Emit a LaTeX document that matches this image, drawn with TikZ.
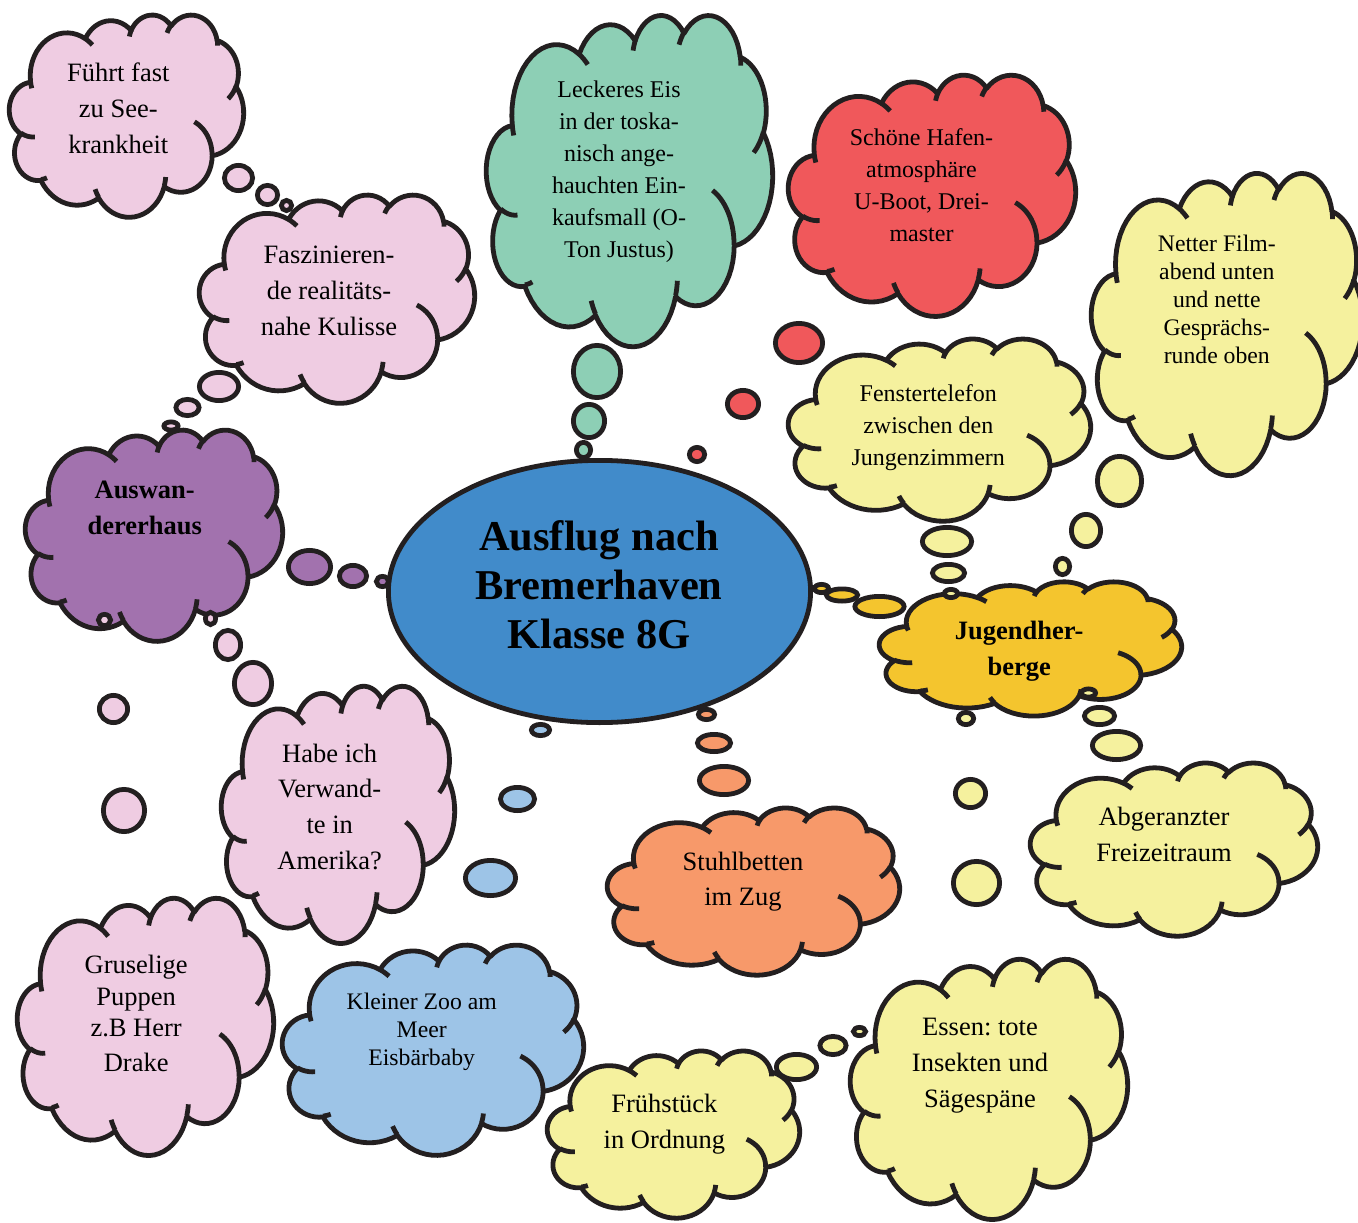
\documentclass[tikz,border=0pt]{standalone}
\usepackage{fontspec}
\setmainfont{Liberation Serif}
\usetikzlibrary{shapes.geometric}
\frenchspacing

\definecolor{olc}{HTML}{231F20}
\definecolor{cpink}{HTML}{EFCCE2}
\definecolor{cgreen}{HTML}{8DCFB5}
\definecolor{cred}{HTML}{F0585B}
\definecolor{cyellow}{HTML}{F5F19E}
\definecolor{cpurple}{HTML}{A272AE}
\definecolor{cblue}{HTML}{418BCA}
\definecolor{cgold}{HTML}{F4C52E}
\definecolor{corange}{HTML}{F7996A}
\definecolor{clblue}{HTML}{9DC4E7}

% ---------- cloud geometry (Office-like cloud, 43.2 x 43.2 box, y down) ----------
\def\clOutline{}
\def\clHooks{}
\def\clLX{0}
\def\clLY{0}
% #1 target macro name, #2 x0, #3 y0, #4 wR, #5 hR, #6 start angle, #7 sweep, #8 samples
\newcommand\clArc[8]{%
  \pgfmathsetmacro\clA{atan2((#4)*sin(#6),(#5)*cos(#6))}%
  \pgfmathsetmacro\clB{atan2((#4)*sin((#6)+(#7)),(#5)*cos((#6)+(#7)))}%
  \pgfmathsetmacro\clD{\clB-\clA-(#7)}%
  \pgfmathsetmacro\clD{\clD-360*round(\clD/360)}%
  \pgfmathsetmacro\clE{\clA+(#7)+\clD}%
  \pgfmathsetmacro\clCX{(#2)-(#4)*cos(\clA)}%
  \pgfmathsetmacro\clCY{(#3)-(#5)*sin(\clA)}%
  \foreach \clk in {1,...,#8}{%
    \pgfmathsetmacro\clT{\clA+(\clE-\clA)*\clk/#8}%
    \pgfmathsetmacro\clPX{\clCX+(#4)*cos(\clT)}%
    \pgfmathsetmacro\clPY{\clCY+(#5)*sin(\clT)}%
    \expandafter\xdef\csname #1\endcsname{\csname #1\endcsname\space -- (\clPX,\clPY)}%
    \xdef\clLX{\clPX}\xdef\clLY{\clPY}%
  }%
}
\newcommand\clHook[7]{%
  \xdef\clHooks{\clHooks\space(#1,#2)}%
  \clArc{clHooks}{#1}{#2}{#3}{#4}{#5}{#6}{#7}}

\xdef\clOutline{(3.9,14.37)}
\xdef\clLX{3.9}\xdef\clLY{14.37}
\clArc{clOutline}{\clLX}{\clLY}{6.753}{9.190}{-190.48748}{123.78053}{18}
\clArc{clOutline}{\clLX}{\clLY}{5.333}{7.267}{-144.10238}{89.94523}{14}
\clArc{clOutline}{\clLX}{\clLY}{4.365}{5.945}{-145.80792}{99.72302}{14}
\clArc{clOutline}{\clLX}{\clLY}{4.857}{6.595}{-130.98607}{117.24173}{16}
\clArc{clOutline}{\clLX}{\clLY}{5.333}{7.273}{-78.70888}{109.02692}{16}
\clArc{clOutline}{\clLX}{\clLY}{6.775}{9.220}{-46.26725}{130.26900}{18}
\clArc{clOutline}{\clLX}{\clLY}{5.785}{7.867}{0.62502}{114.03333}{16}
\clArc{clOutline}{\clLX}{\clLY}{6.752}{9.215}{22.45160}{115.17255}{18}
\clArc{clOutline}{\clLX}{\clLY}{7.720}{10.543}{66.24263}{75.71102}{14}
\clArc{clOutline}{\clLX}{\clLY}{4.360}{5.918}{-274.94208}{146.73557}{18}
\clArc{clOutline}{\clLX}{\clLY}{4.345}{5.945}{-246.82850}{152.51885}{18}
\xdef\clOutline{\clOutline\space -- cycle}

\clHook{4.693}{26.177}{4.345}{5.945}{86.7420}{26.4295}{6}
\clHook{6.928}{34.899}{4.360}{5.918}{73.6105}{11.4475}{4}
\clHook{16.478}{39.090}{6.752}{9.215}{137.6242}{14.0811}{5}
\clHook{28.827}{34.751}{6.752}{9.215}{6.4533}{15.9984}{5}
\clHook{34.129}{22.954}{5.785}{7.867}{-70.2924}{70.9174}{14}
\clHook{41.798}{15.354}{5.333}{7.273}{30.3180}{27.7515}{7}
\clHook{38.324}{5.426}{4.857}{6.595}{-13.7443}{14.8589}{4}
\clHook{29.078}{3.952}{4.857}{6.595}{-149.1815}{18.1954}{5}
\clHook{22.141}{4.720}{4.365}{5.945}{-163.4943}{17.6864}{5}
\clHook{14.000}{5.192}{6.753}{9.190}{-66.7070}{12.3194}{4}
\clHook{4.127}{15.789}{6.753}{9.190}{157.6544}{11.8582}{4}

\def\lw{4.8}
% #1 left #2 top #3 right #4 bottom (outer edges), #5 fill colour
\newcommand\mkcloud[5]{%
  \begin{scope}[shift={(#1+\lw/2,#2+\lw/2)},xscale={(#3-#1-\lw)/43.2},yscale={(#4-#2-\lw)/43.2}]
    \filldraw[fill=#5,outl] \clOutline;
    \draw[outl] \clHooks;
  \end{scope}}
% #1 name #2 x #3 y #4 outer w #5 outer h #6 fill
\newcommand\mkbub[6]{%
  \pgfmathsetmacro\bubw{#4-\lw}\pgfmathsetmacro\bubh{#5-\lw}%
  \node[bub,fill=#6,minimum width=\bubw pt,minimum height=\bubh pt] (#1) at (#2,#3) {};}

\begin{document}
\begin{tikzpicture}[x=1pt,y=-1pt,
  outl/.style={draw=olc,line width=\lw pt,line join=round},
  bub/.style={ellipse,draw=olc,line width=\lw pt,inner sep=0pt,outer sep=0pt},
  tA/.style={font=\fontsize{26.5}{35.7}\selectfont,align=center,inner sep=0pt},
  tB/.style={font=\fontsize{24}{32}\selectfont,align=center,inner sep=0pt},
  tC/.style={font=\fontsize{23.7}{28}\selectfont,align=center,inner sep=0pt},
  tD/.style={font=\fontsize{26.5}{36}\selectfont\bfseries,align=center,inner sep=0pt},
  tTitle/.style={font=\fontsize{42.5}{49}\selectfont\bfseries,align=center,inner sep=0pt}]
\fill[white] (0,0) rectangle (1358,1223);
\useasboundingbox (0,0) rectangle (1358,1223);

% clouds
\mkcloud{7}{12}{246}{219}{cpink}
\mkcloud{197}{192}{477}{405}{cpink}
\mkcloud{484}{12}{775}{348}{cgreen}
\mkcloud{786}{72}{1078}{318}{cred}
\mkcloud{1089}{170}{1365}{477}{cyellow}
\mkcloud{786}{336}{1093}{523}{cyellow}
\mkcloud{23}{427}{285}{643}{cpurple}
\mkcloud{877}{579}{1184}{718}{cgold}
\mkcloud{1028}{760}{1320}{938}{cyellow}
\mkcloud{605}{805}{902}{977}{corange}
\mkcloud{219}{683}{457}{945}{cpink}
\mkcloud{15}{895}{276}{1157}{cpink}
\mkcloud{280}{942}{586}{1157}{clblue}
\mkcloud{545}{1048}{802}{1220}{cyellow}
\mkcloud{848}{956}{1130}{1221}{cyellow}

% central ellipse
\node[ellipse,draw=olc,line width=\lw pt,fill=cblue,inner sep=0pt,
      minimum width=422.2pt,minimum height=262.2pt] (main) at (599.5,591.5) {};

% thought bubbles
\mkbub{p1}{238.5}{178}{33}{30}{cpink}
\mkbub{p2}{267.5}{195}{25}{24}{cpink}
\mkbub{p3}{286.5}{205.5}{15}{15}{cpink}
\mkbub{p4}{219}{386.5}{44}{33}{cpink}
\mkbub{p5}{187.5}{407.5}{28}{21}{cpink}
\mkbub{p6}{171}{426}{19}{13}{cpink}
\mkbub{u1}{309.5}{567}{47}{38}{cpurple}
\mkbub{u2}{353}{576}{32}{26}{cpurple}
\mkbub{u3}{382.5}{581.5}{17}{15}{cpurple}
\mkbub{p7}{104.5}{620}{17}{16}{cpink}
\mkbub{p8}{113.5}{709}{33}{32}{cpink}
\mkbub{p9}{124}{810.5}{46}{47}{cpink}
\mkbub{p10}{210.5}{618.5}{15}{17}{cpink}
\mkbub{p11}{228}{645}{30}{34}{cpink}
\mkbub{p12}{253}{683.5}{42}{47}{cpink}
\mkbub{g1}{597}{371.5}{52}{57}{cgreen}
\mkbub{g2}{589}{421}{36}{38}{cgreen}
\mkbub{g3}{583.5}{450}{19}{20}{cgreen}
\mkbub{r1}{799}{343}{52}{44}{cred}
\mkbub{r2}{743}{404}{36}{32}{cred}
\mkbub{r3}{697}{454.5}{20}{19}{cred}
\mkbub{y1}{947}{541.5}{54}{33}{cyellow}
\mkbub{y2}{948.5}{573}{37}{22}{cyellow}
\mkbub{y3}{951}{593.5}{18}{13}{cyellow}
\mkbub{y4}{1119.5}{481}{49}{54}{cyellow}
\mkbub{y5}{1086}{530.5}{34}{37}{cyellow}
\mkbub{y6}{1062.5}{566.5}{19}{21}{cyellow}
\mkbub{o1}{821.5}{588.5}{19}{13}{cgold}
\mkbub{o2}{842}{595}{36}{17}{cgold}
\mkbub{o3}{879.5}{606.5}{54}{25}{cgold}
\mkbub{y7}{1088.5}{693}{19}{13}{cyellow}
\mkbub{y8}{1099.5}{716}{35}{22}{cyellow}
\mkbub{y9}{1116.5}{745.5}{53}{33}{cyellow}
\mkbub{y10}{966}{718.5}{20}{17}{cyellow}
\mkbub{y11}{970.5}{793.5}{35}{33}{cyellow}
\mkbub{y12}{976.5}{883}{51}{48}{cyellow}
\mkbub{b1}{540.5}{730}{23}{16}{clblue}
\mkbub{b2}{517.5}{799}{39}{28}{clblue}
\mkbub{b3}{490.5}{878}{55}{40}{clblue}
\mkbub{s1}{706.5}{714.5}{21}{15}{corange}
\mkbub{s2}{714}{743}{38}{22}{corange}
\mkbub{s3}{724}{780.5}{54}{33}{corange}
\mkbub{y13}{796.5}{1067}{45}{30}{cyellow}
\mkbub{y14}{833}{1045.5}{31}{23}{cyellow}
\mkbub{y15}{859.5}{1031.5}{17}{13}{cyellow}

% texts
\node[tA] (t1) at (118.3,108.3) {Führt fast\\zu See-\\krankheit};
\node[tA] (t2) at (329,291) {Faszinieren-\\de realitäts-\\nahe Kulisse};
\node[tB] (t3) at (619,172) {Leckeres Eis\\in der toska-\\nisch ange-\\hauchten Ein-\\kaufsmall (O-\\Ton Justus)};
\node[tB] (t4) at (921.5,185) {Schöne Hafen-\\atmosphäre\\U-Boot, Drei-\\master};
\node[tC] (t5) at (1216.8,299) {Netter Film-\\abend unten\\und nette\\Gesprächs-\\runde oben};
\node[tB] (t6) at (928.3,427.2) {Fenstertelefon\\zwischen den\\Jungenzimmern};
\node[tD] (t7) at (144.7,508) {Auswan-\\dererhaus};
\node[tTitle] (t8) at (599,585) {Ausflug nach\\Bremerhaven\\Klasse 8G};
\node[tD] (t9) at (1019.2,650.8) {Jugendher-\\berge};
\node[tA] (t10) at (1164,834.5) {Abgeranzter\\Freizeitraum};
\node[tA] (t11) at (743,881.8) {Stuhlbetten\\im Zug};
\node[tA] (t12) at (329.7,806.7) {Habe ich\\Verwand-\\te in\\Amerika?};
\node[tA,font=\fontsize{26.5}{31.5}\selectfont] (t13) at (136.2,1013.3) {Gruselige\\Puppen\\z.B Herr\\[3pt]Drake};
\node[tC] (t14) at (421.7,1031.5) {Kleiner Zoo am\\Meer\\Eisbärbaby};
\node[tA] (t15) at (664.4,1124.1) {Frühstück\\in Ordnung};
\node[tA] (t16) at (980,1065.5) {Essen: tote\\Insekten und\\Sägespäne};
\end{tikzpicture}
\end{document}
